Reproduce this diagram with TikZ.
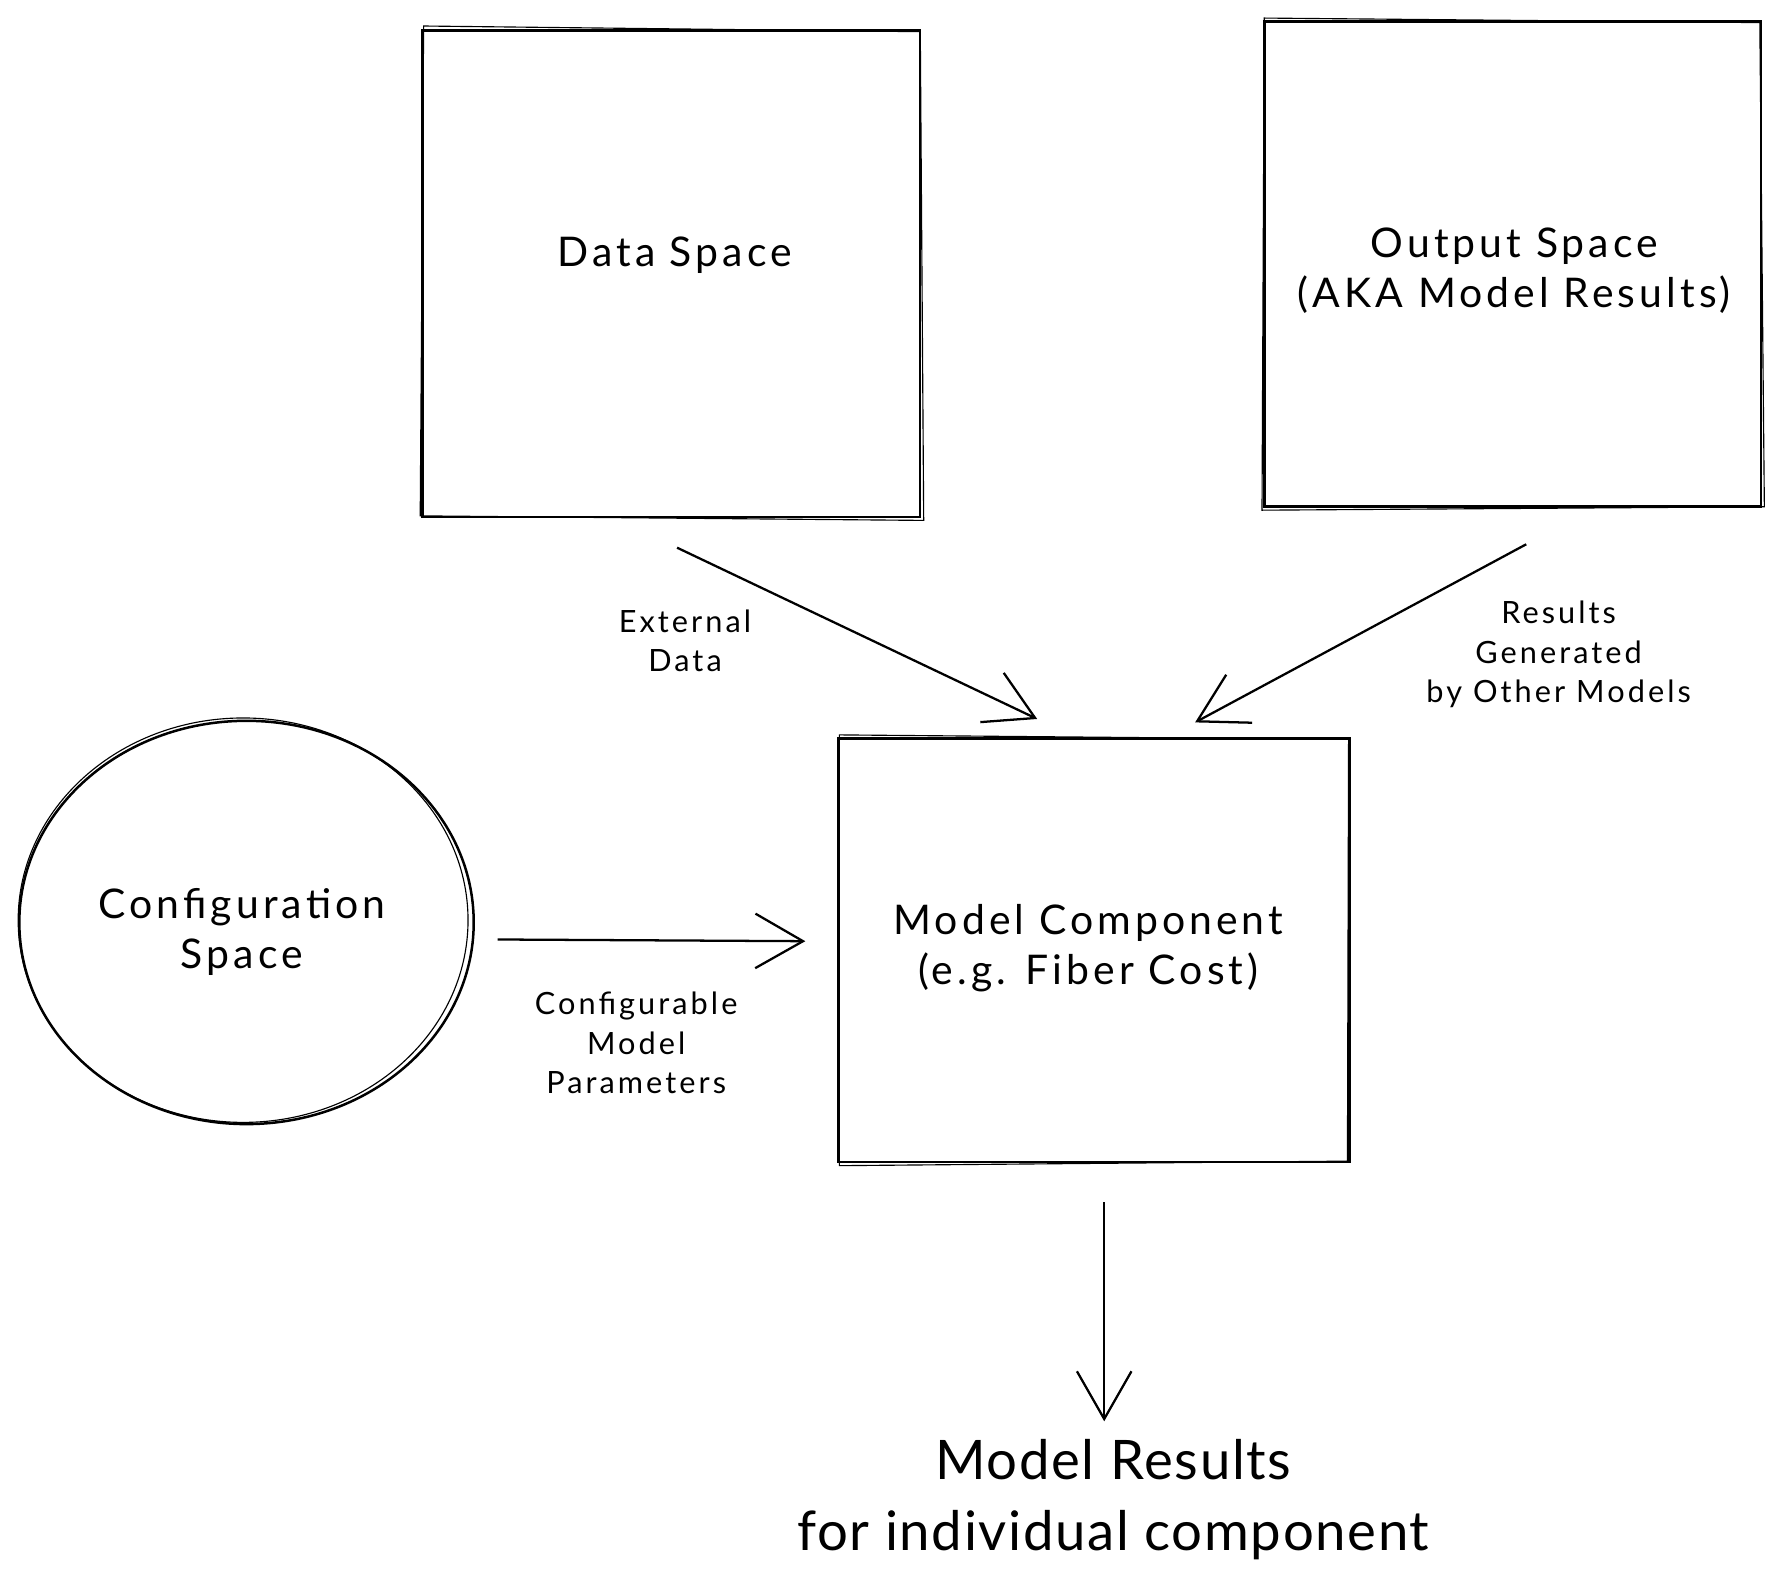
\documentclass[tikz,border=0pt]{standalone}
\usepackage{fontspec}
\setmainfont{Lato}
\usetikzlibrary{arrows.meta,calc,shapes.geometric}
\tikzset{
  box/.style={draw, line width=2.2pt, rectangle, inner sep=0pt},
  blob/.style={draw, line width=2.2pt, ellipse, inner sep=0pt},
  boxtext/.style={align=center, font=\fontsize{36}{44}\selectfont\addfontfeatures{LetterSpace=10}},
  smalltext/.style={align=center, font=\fontsize{27}{35}\selectfont\addfontfeatures{LetterSpace=10}},
  bigtext/.style={align=center, font=\fontsize{48}{63}\selectfont\addfontfeatures{LetterSpace=3}},
  flow/.style={line width=2pt, -{Straight Barb[length=42pt,width=48pt,line width=2pt]}},
}
\begin{document}
\begin{tikzpicture}[x=1pt,y=-1pt]
\useasboundingbox (0,0) rectangle (1566,1399);
% boxes
\node[box, minimum width=438pt, minimum height=428pt] (data) at (591,241) {};
\node[box, minimum width=437pt, minimum height=427pt] (out) at (1331.5,232.5) {};
\node[box, minimum width=450pt, minimum height=373pt] (model) at (963,836.5) {};
\node[blob, minimum width=400pt, minimum height=355pt] (conf) at (217,812) {};
% sketchy second strokes
\draw[line width=1pt] ($(data.north west)+(2,-3)$) -- ($(data.north east)+(-1,2)$) -- ($(data.south east)+(2,2)$) -- ($(data.south west)+(-1,-2)$) -- cycle;
\draw[line width=1pt] ($(out.north west)+(1,-2)$) -- ($(out.north east)+(-2,2)$) -- ($(out.south east)+(2,-1)$) -- ($(out.south west)+(-1,2)$) -- cycle;
\draw[line width=1pt] ($(model.north west)+(2,-2)$) -- ($(model.north east)+(-2,2)$) -- ($(model.south east)+(-3,-2)$) -- ($(model.south west)+(2,2)$) -- cycle;
\draw[line width=1pt] ($(conf.center)+(-3,-2)$) ellipse (198pt and 178pt);
% texts
\node[boxtext] (tdata) at (594,225) {Data Space};
\node[boxtext] (tout) at (1333,238) {Output Space\\(AKA Model Results)};
\node[boxtext] (tmodel) at (958,835) {Model Component\\(e.g. Fiber Cost)};
\node[boxtext] (tconf) at (213,820) {Configuration\\Space};
% connector end points
\coordinate (d1) at ($(data.south)+(5,26)$);
\coordinate (d2) at ($(model.north)+(-50,-16)$);
\coordinate (o1) at ($(out.south)+(12,32)$);
\coordinate (o2) at ($(model.north)+(89,-13)$);
\coordinate (c1) at ($(conf.east)+(20,15)$);
\coordinate (c2) at ($(model.west)+(-28,-8)$);
\coordinate (m1) at ($(model.south)+(9,34)$);
\coordinate (m2) at ($(model.south)+(9,227)$);
\draw[flow] (d1) -- (d2);
\draw[flow] (o1) -- (o2);
\draw[flow] (c1) -- (c2);
\draw[flow] (m1) -- (m2);
% labels
\node[smalltext] (ldata) at (603,564) {External\\Data};
\node[smalltext] (lout) at (1372,576) {Results\\Generated\\by Other Models};
\node[smalltext] (lconf) at (560,918) {Configurable\\Model\\Parameters};
\node[bigtext] (res) at (980,1320) {Model Results\\for individual component};
\end{tikzpicture}
\end{document}
